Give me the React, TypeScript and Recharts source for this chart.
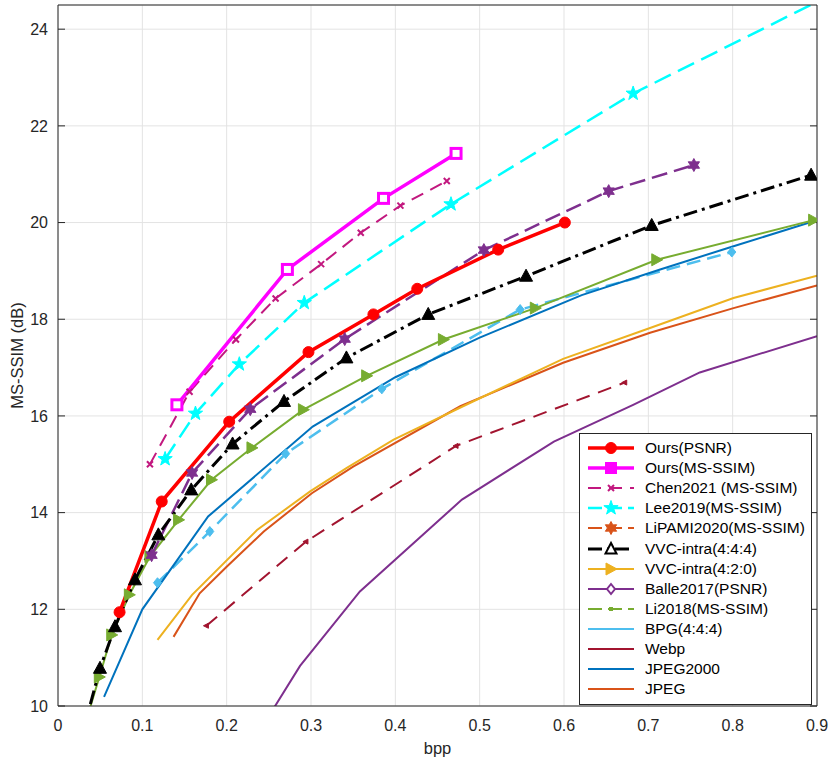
import { LineChart, Line, XAxis, YAxis, CartesianGrid } from "recharts";

// axis ticks
const xTicks = [0, 0.1, 0.2, 0.3, 0.4, 0.5, 0.6, 0.7, 0.8, 0.9];
const yTicks = [10, 12, 14, 16, 18, 20, 22, 24];

// values (bpp, MS-SSIM dB)
const oursPsnrBpp = [0.073, 0.123, 0.203, 0.297, 0.374, 0.426, 0.522, 0.601];
const oursPsnr = [11.94, 14.23, 15.88, 17.32, 18.1, 18.63, 19.44, 20.0];

const oursSsimBpp = [0.141, 0.272, 0.386, 0.472];
const oursSsim = [16.23, 19.03, 20.5, 21.43];

const chenBpp = [0.109, 0.156, 0.211, 0.258, 0.312, 0.359, 0.406, 0.461];
const chen = [15.0, 16.5, 17.58, 18.43, 19.14, 19.79, 20.35, 20.86];

const leeBpp = [0.127, 0.163, 0.215, 0.292, 0.466, 0.682, 0.95];
const lee = [15.11, 16.05, 17.07, 18.34, 20.38, 22.67, 25.0];

const vvc444Bpp = [0.03, 0.0498, 0.0676, 0.0913, 0.119, 0.158, 0.207, 0.268, 0.342, 0.439, 0.555, 0.704, 0.893];
const vvc444 = [9.5, 10.78, 11.64, 12.61, 13.54, 14.47, 15.42, 16.3, 17.2, 18.1, 18.89, 19.94, 20.98];

const greenBpp = [0.03, 0.049, 0.0637, 0.0846, 0.109, 0.143, 0.182, 0.23, 0.291, 0.366, 0.457, 0.566, 0.71, 0.896];
const green = [9.5, 10.6, 11.47, 12.3, 13.09, 13.85, 14.68, 15.34, 16.13, 16.83, 17.58, 18.23, 19.23, 20.05];

const purpleDashBpp = [0.111, 0.159, 0.228, 0.34, 0.505, 0.653, 0.754];
const purpleDash = [13.12, 14.82, 16.14, 17.59, 19.43, 20.65, 21.19];

const bpgBpp = [0.118, 0.18, 0.27, 0.384, 0.548, 0.799];
const bpg = [12.55, 13.61, 15.22, 16.56, 18.2, 19.39];

const redDashBpp = [0.176, 0.294, 0.472, 0.672];
const redDash = [11.66, 13.4, 15.38, 16.69];

const j2kBpp = [0.0546, 0.1, 0.178, 0.302, 0.4, 0.5, 0.621, 0.714, 0.801, 0.9];
const j2k = [10.19, 12.0, 13.92, 15.78, 16.8, 17.62, 18.5, 19.03, 19.51, 20.05];

const vvc420Bpp = [0.118, 0.159, 0.236, 0.299, 0.342, 0.398, 0.497, 0.599, 0.702, 0.801, 0.9];
const vvc420 = [11.37, 12.3, 13.64, 14.44, 14.92, 15.51, 16.34, 17.18, 17.82, 18.44, 18.9];

const jpegBpp = [0.137, 0.168, 0.2, 0.244, 0.301, 0.35, 0.477, 0.599, 0.702, 0.801, 0.9];
const jpeg = [11.43, 12.33, 12.88, 13.61, 14.4, 14.95, 16.2, 17.1, 17.72, 18.23, 18.7];

const purpleBpp = [0.245, 0.287, 0.358, 0.479, 0.588, 0.682, 0.761, 0.9];
const purple = [9.65, 10.83, 12.37, 14.27, 15.47, 16.23, 16.9, 17.65];

const legendNames = [
  "Ours(PSNR)",
  "Ours(MS-SSIM)",
  "Chen2021 (MS-SSIM)",
  "Lee2019(MS-SSIM)",
  "LiPAMI2020(MS-SSIM)",
  "VVC-intra(4:4:4)",
  "VVC-intra(4:2:0)",
  "Balle2017(PSNR)",
  "Li2018(MS-SSIM)",
  "BPG(4:4:4)",
  "Webp",
  "JPEG2000",
  "JPEG",
];

type Pt = { bpp: number; v: number };
const zip = (b: number[], v: number[]): Pt[] => b.map((x, i) => ({ bpp: x, v: v[i] }));

const FONT = "'Liberation Sans', Arial, Helvetica, sans-serif";
const AXIS = "#262626";

function starPoints(cx: number, cy: number, R: number, r: number, n: number) {
  const pts: string[] = [];
  for (let i = 0; i < n * 2; i++) {
    const a = -Math.PI / 2 + (i * Math.PI) / n;
    const rad = i % 2 === 0 ? R : r;
    pts.push(`${cx + rad * Math.cos(a)},${cy + rad * Math.sin(a)}`);
  }
  return pts.join(" ");
}

function Marker({ shape, cx, cy, color }: { shape: string; cx: number; cy: number; color: string }) {
  switch (shape) {
    case "circle":
      return <circle cx={cx} cy={cy} r={5.5} fill={color} stroke={color} />;
    case "square":
      return <rect x={cx - 5} y={cy - 5} width={10} height={10} fill="#fff" stroke={color} strokeWidth={3} />;
    case "squareFill":
      return <rect x={cx - 5.5} y={cy - 5.5} width={11} height={11} fill={color} stroke={color} />;
    case "x":
      return (
        <path
          d={`M${cx - 3},${cy - 3}L${cx + 3},${cy + 3}M${cx - 3},${cy + 3}L${cx + 3},${cy - 3}`}
          stroke={color}
          strokeWidth={2}
        />
      );
    case "star5":
      return <polygon points={starPoints(cx, cy, 7.5, 3, 5)} fill={color} stroke={color} />;
    case "star6":
      return <polygon points={starPoints(cx, cy, 6.5, 3.6, 6)} fill={color} stroke={color} />;
    case "triUp":
      return <polygon points={`${cx},${cy - 7} ${cx - 6.5},${cy + 5} ${cx + 6.5},${cy + 5}`} fill={color} stroke={color} />;
    case "triUpOpen":
      return (
        <polygon
          points={`${cx},${cy - 6} ${cx - 5.5},${cy + 4.5} ${cx + 5.5},${cy + 4.5}`}
          fill="#fff"
          stroke={color}
          strokeWidth={2}
        />
      );
    case "triRight":
      return <polygon points={`${cx + 6},${cy} ${cx - 5},${cy - 6} ${cx - 5},${cy + 6}`} fill={color} stroke={color} />;
    case "diamond":
      return <polygon points={`${cx},${cy - 5} ${cx + 4},${cy} ${cx},${cy + 5} ${cx - 4},${cy}`} fill={color} stroke={color} />;
    case "diamondOpen":
      return (
        <polygon
          points={`${cx},${cy - 5} ${cx + 4},${cy} ${cx},${cy + 5} ${cx - 4},${cy}`}
          fill="#fff"
          stroke={color}
          strokeWidth={2}
        />
      );
    case "small":
      return <polygon points={`${cx - 3},${cy} ${cx + 2},${cy - 2.5} ${cx + 2},${cy + 2.5}`} fill={color} stroke={color} />;
    case "dot":
      return <rect x={cx - 2} y={cy - 2} width={4} height={4} fill={color} />;
    default:
      return null;
  }
}

const dotFor = (shape: string, color: string) => (p: any) =>
  p.cx == null ? null : <Marker key={`m-${p.index}`} shape={shape} cx={p.cx} cy={p.cy} color={color} />;

type Series = {
  id: string;
  data: Pt[];
  color: string;
  width: number;
  dash?: string;
  marker?: string;
};

// plot order: bottom layers first
const series: Series[] = [
  { id: "purple", data: zip(purpleBpp, purple), color: "#7e2f8e", width: 2 },
  { id: "jpeg", data: zip(jpegBpp, jpeg), color: "#d95319", width: 2 },
  { id: "vvc420", data: zip(vvc420Bpp, vvc420), color: "#edb120", width: 2 },
  { id: "redDash", data: zip(redDashBpp, redDash), color: "#a2142f", width: 2, dash: "14 9", marker: "small" },
  { id: "bpg", data: zip(bpgBpp, bpg), color: "#4dbeee", width: 2.5, dash: "14 7", marker: "diamond" },
  { id: "j2k", data: zip(j2kBpp, j2k), color: "#0072bd", width: 2 },
  { id: "green", data: zip(greenBpp, green), color: "#77ac30", width: 2, marker: "triRight" },
  { id: "purpleDash", data: zip(purpleDashBpp, purpleDash), color: "#7e2f8e", width: 2.5, dash: "16 7", marker: "star6" },
  { id: "vvc444", data: zip(vvc444Bpp, vvc444), color: "#000000", width: 3, dash: "14 5 3 5", marker: "triUp" },
  { id: "lee", data: zip(leeBpp, lee), color: "#00ffff", width: 2.5, dash: "18 8", marker: "star5" },
  { id: "chen", data: zip(chenBpp, chen), color: "#c2187f", width: 2, dash: "13 8", marker: "x" },
  { id: "oursSsim", data: zip(oursSsimBpp, oursSsim), color: "#ff00ff", width: 3.5, marker: "square" },
  { id: "oursPsnr", data: zip(oursPsnrBpp, oursPsnr), color: "#ff0000", width: 3.5, marker: "circle" },
];

// legend swatches (as drawn in the legend box)
const legendStyles: { color: string; width: number; dash?: string; marker?: string }[] = [
  { color: "#ff0000", width: 3.5, marker: "circle" },
  { color: "#ff00ff", width: 3.5, marker: "squareFill" },
  { color: "#c2187f", width: 2, dash: "13 8", marker: "x" },
  { color: "#00ffff", width: 2.5, dash: "14 6", marker: "star5" },
  { color: "#d95319", width: 2, dash: "14 6", marker: "star6" },
  { color: "#000000", width: 3, dash: "14 5 3 5", marker: "triUpOpen" },
  { color: "#edb120", width: 2, marker: "triRight" },
  { color: "#7e2f8e", width: 2, marker: "diamondOpen" },
  { color: "#77ac30", width: 2, dash: "14 6", marker: "dot" },
  { color: "#4dbeee", width: 2 },
  { color: "#a2142f", width: 2 },
  { color: "#0072bd", width: 2 },
  { color: "#d95319", width: 2 },
];

function LegendBox() {
  return (
    <div
      style={{
        position: "absolute",
        left: 579,
        top: 433,
        width: 233,
        height: 272,
        border: `1px solid ${AXIS}`,
        background: "#fff",
        boxSizing: "border-box",
        paddingTop: 4,
        fontFamily: FONT,
        fontSize: 15.5,
        color: "#000",
      }}
    >
      {legendNames.map((name, i) => {
        const s = legendStyles[i];
        return (
          <div key={name} style={{ height: 20.1, display: "flex", alignItems: "center" }}>
            <svg width={60} height={20} style={{ flex: "none" }}>
              <line x1={8} y1={10} x2={54} y2={10} stroke={s.color} strokeWidth={s.width} strokeDasharray={s.dash} />
              {s.marker ? <Marker shape={s.marker} cx={31} cy={10} color={s.color} /> : null}
            </svg>
            <span style={{ marginLeft: 5, whiteSpace: "nowrap" }}>{name}</span>
          </div>
        );
      })}
    </div>
  );
}

export default function App() {
  const tickStyle = { fill: AXIS, fontSize: 16, fontFamily: FONT };
  const hidden = { fill: "none", fontSize: 1 };
  return (
    <div style={{ position: "absolute", left: 0, top: 0, width: 830, height: 768, background: "#fff", fontFamily: FONT }}>
      <LineChart width={830} height={768} margin={{ top: 5, right: 13, left: 0, bottom: 0 }}>
        <CartesianGrid xAxisId="x" yAxisId="y" stroke="#e3e3e3" strokeWidth={1} />
        <XAxis
          xAxisId="x"
          type="number"
          dataKey="bpp"
          domain={[0, 0.9]}
          ticks={xTicks}
          allowDataOverflow
          height={62}
          tickLine={false}
          tickSize={6}
          tickMargin={8}
          axisLine={{ stroke: AXIS }}
          tick={tickStyle}
          label={{ value: "bpp", position: "insideBottom", offset: 14, style: { fill: AXIS, fontSize: 16.5, fontFamily: FONT } }}
        />
        <XAxis
          xAxisId="xb"
          type="number"
          domain={[0, 0.9]}
          ticks={xTicks}
          allowDataOverflow
          mirror
          tickSize={7}
          tickLine={{ stroke: AXIS }}
          axisLine={false}
          tick={hidden}
        />
        <XAxis
          xAxisId="xt"
          orientation="top"
          type="number"
          domain={[0, 0.9]}
          ticks={xTicks}
          allowDataOverflow
          mirror
          tickSize={7}
          tickLine={{ stroke: AXIS }}
          axisLine={{ stroke: AXIS }}
          tick={hidden}
        />
        <YAxis
          yAxisId="y"
          type="number"
          domain={[10, 24.5]}
          ticks={yTicks}
          allowDataOverflow
          width={58}
          tickLine={false}
          tickSize={2}
          tickMargin={8}
          axisLine={{ stroke: AXIS }}
          tick={tickStyle}
          label={{
            value: "MS-SSIM (dB)",
            angle: -90,
            position: "insideLeft",
            offset: 17,
            style: { textAnchor: "middle", fill: AXIS, fontSize: 16.5, fontFamily: FONT },
          }}
        />
        <YAxis
          yAxisId="yl"
          type="number"
          domain={[10, 24.5]}
          ticks={yTicks}
          allowDataOverflow
          mirror
          tickSize={7}
          tickLine={{ stroke: AXIS }}
          axisLine={false}
          tick={hidden}
        />
        <YAxis
          yAxisId="yr"
          orientation="right"
          type="number"
          domain={[10, 24.5]}
          ticks={yTicks}
          allowDataOverflow
          mirror
          tickSize={7}
          tickLine={{ stroke: AXIS }}
          axisLine={{ stroke: AXIS }}
          tick={hidden}
        />
        {series.map((s) => (
          <Line
            key={s.id}
            xAxisId="x"
            yAxisId="y"
            data={s.data}
            dataKey="v"
            type="linear"
            stroke={s.color}
            strokeWidth={s.width}
            strokeDasharray={s.dash}
            dot={s.marker ? dotFor(s.marker, s.color) : false}
            activeDot={false}
            isAnimationActive={false}
          />
        ))}
      </LineChart>
      <LegendBox />
    </div>
  );
}
